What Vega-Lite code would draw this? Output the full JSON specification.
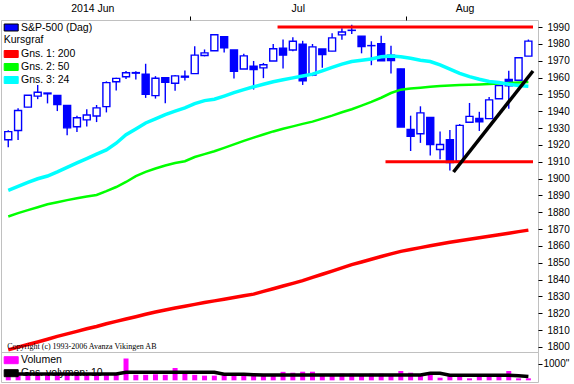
{
  "$schema": "https://vega.github.io/schema/vega-lite/v6.json",
  "background": "white",
  "padding": 0,
  "spacing": 0,
  "bounds": "flush",
  "config": {
    "font": "Liberation Sans",
    "view": {"stroke": "#c0c0c0", "strokeWidth": 1},
    "axis": {"domain": false, "grid": false, "labelFont": "Liberation Sans", "labelColor": "#000000", "tickColor": "#000000", "tickWidth": 1, "labelOverlap": false, "labelSeparation": 0, "labelBound": false},
    "legend": {
      "labelFont": "Liberation Sans", "labelFontSize": 10.5, "labelColor": "#000000",
      "titleFont": "Liberation Sans", "titleFontSize": 10.5, "titleFontWeight": "normal", "titleColor": "#000000",
      "symbolType": "M-1,-0.5H1V0.5H-1Z", "symbolSize": 196, "symbolStrokeColor": "#000000", "symbolStrokeWidth": 1,
      "padding": 0, "rowPadding": 0, "labelOffset": 2.3, "symbolOffset": 0, "titlePadding": 1.5, "offset": 0
    }
  },
  "resolve": {"scale": {"color": "independent", "x": "independent", "y": "independent"}, "legend": {"color": "independent"}},
  "datasets": {
    "ohlc": [
      {"i":0,"o":1923.06,"h":1928.63,"l":1918.6,"c":1927.88,"d":"up","r":1798.3,"g":1877.5,"cy":1893,"vol":330,"vma":380},
      {"i":1,"o":1928.52,"h":1941.74,"l":1922.93,"c":1940.46,"d":"up","r":1799.9,"g":1879.5,"cy":1895.3,"vol":330,"vma":380},
      {"i":2,"o":1942.41,"h":1949.44,"l":1942.41,"c":1949.44,"d":"up","r":1801.5,"g":1881.3,"cy":1897.7,"vol":361,"vma":380},
      {"i":3,"o":1948.97,"h":1955.55,"l":1947.16,"c":1951.27,"d":"up","r":1803,"g":1883,"cy":1899.9,"vol":361,"vma":380},
      {"i":4,"o":1950.34,"h":1950.86,"l":1944.64,"c":1950.79,"d":"up","r":1804.6,"g":1884.8,"cy":1901.5,"vol":330,"vma":380},
      {"i":5,"o":1949.37,"h":1949.37,"l":1940.08,"c":1943.89,"d":"down","r":1806.3,"g":1886,"cy":1904,"vol":330,"vma":380},
      {"i":6,"o":1943.35,"h":1943.35,"l":1925.78,"c":1930.11,"d":"down","r":1807.8,"g":1887.2,"cy":1906.7,"vol":361,"vma":380},
      {"i":7,"o":1930.8,"h":1937.3,"l":1927.69,"c":1936.16,"d":"up","r":1809.3,"g":1888.3,"cy":1909.3,"vol":361,"vma":380},
      {"i":8,"o":1934.84,"h":1941.15,"l":1930.91,"c":1937.78,"d":"up","r":1810.8,"g":1889.3,"cy":1911.9,"vol":330,"vma":380},
      {"i":9,"o":1937.15,"h":1943.69,"l":1933.55,"c":1941.99,"d":"up","r":1812.2,"g":1890.3,"cy":1914.5,"vol":330,"vma":380},
      {"i":10,"o":1942.73,"h":1957.74,"l":1939.29,"c":1956.98,"d":"up","r":1813.8,"g":1892.5,"cy":1917,"vol":361,"vma":380},
      {"i":11,"o":1957.5,"h":1959.87,"l":1952.26,"c":1959.48,"d":"up","r":1815.2,"g":1895,"cy":1921,"vol":361,"vma":380},
      {"i":12,"o":1960.45,"h":1963.91,"l":1959.17,"c":1962.87,"d":"up","r":1816.6,"g":1898,"cy":1926,"vol":1313,"vma":490},
      {"i":13,"o":1962.92,"h":1963.74,"l":1958.89,"c":1962.61,"d":"down","r":1818,"g":1901.5,"cy":1929.5,"vol":330,"vma":490},
      {"i":14,"o":1961.97,"h":1968.17,"l":1947.92,"c":1949.98,"d":"down","r":1819.4,"g":1904,"cy":1933,"vol":330,"vma":490},
      {"i":15,"o":1949.27,"h":1960.83,"l":1947.49,"c":1959.53,"d":"up","r":1820.8,"g":1906,"cy":1935.5,"vol":361,"vma":490},
      {"i":16,"o":1959.89,"h":1959.89,"l":1944.69,"c":1957.22,"d":"down","r":1822,"g":1907.8,"cy":1938,"vol":330,"vma":490},
      {"i":17,"o":1956.56,"h":1961.47,"l":1952.18,"c":1960.96,"d":"up","r":1823.1,"g":1909.2,"cy":1940,"vol":741,"vma":490},
      {"i":18,"o":1960.79,"h":1964.24,"l":1958.22,"c":1960.23,"d":"down","r":1824.2,"g":1910.3,"cy":1942,"vol":458,"vma":490},
      {"i":19,"o":1962.29,"h":1978.58,"l":1962.29,"c":1973.32,"d":"up","r":1825.3,"g":1912.8,"cy":1944.5,"vol":330,"vma":490},
      {"i":20,"o":1973.06,"h":1976.67,"l":1972.58,"c":1974.62,"d":"up","r":1826.4,"g":1914.5,"cy":1946.3,"vol":280,"vma":490},
      {"i":21,"o":1975.88,"h":1985.59,"l":1975.88,"c":1985.44,"d":"up","r":1827.4,"g":1916.2,"cy":1947.1,"vol":280,"vma":490},
      {"i":22,"o":1984.22,"h":1984.22,"l":1974.88,"c":1977.65,"d":"down","r":1828.4,"g":1918.2,"cy":1949,"vol":361,"vma":360},
      {"i":23,"o":1976.39,"h":1976.39,"l":1959.46,"c":1963.71,"d":"down","r":1829.4,"g":1920.3,"cy":1951,"vol":380,"vma":360},
      {"i":24,"o":1965.1,"h":1974.15,"l":1965.1,"c":1972.83,"d":"up","r":1830.4,"g":1922.4,"cy":1952.8,"vol":330,"vma":360},
      {"i":25,"o":1966.67,"h":1969.84,"l":1952.86,"c":1964.68,"d":"down","r":1831.4,"g":1924.3,"cy":1954.5,"vol":330,"vma":340},
      {"i":26,"o":1965.76,"h":1968.67,"l":1959.63,"c":1967.57,"d":"up","r":1833,"g":1926.2,"cy":1956,"vol":310,"vma":320},
      {"i":27,"o":1969.86,"h":1979.85,"l":1969.86,"c":1977.1,"d":"up","r":1834.6,"g":1928,"cy":1957.5,"vol":361,"vma":320},
      {"i":28,"o":1977.36,"h":1982.52,"l":1965.34,"c":1973.28,"d":"down","r":1836.2,"g":1929.6,"cy":1958.7,"vol":510,"vma":320},
      {"i":29,"o":1976.35,"h":1983.94,"l":1975.67,"c":1981.57,"d":"up","r":1837.8,"g":1931,"cy":1959.8,"vol":458,"vma":320},
      {"i":30,"o":1979.75,"h":1981.8,"l":1955.59,"c":1958.12,"d":"down","r":1839.4,"g":1932.5,"cy":1960.9,"vol":518,"vma":320},
      {"i":31,"o":1961.54,"h":1979.91,"l":1960.82,"c":1978.22,"d":"up","r":1841.3,"g":1933.8,"cy":1962,"vol":518,"vma":320},
      {"i":32,"o":1976.93,"h":1976.93,"l":1965.77,"c":1973.63,"d":"down","r":1843.2,"g":1935.6,"cy":1964,"vol":340,"vma":320},
      {"i":33,"o":1975.65,"h":1986.24,"l":1975.65,"c":1983.53,"d":"up","r":1845.1,"g":1937.4,"cy":1966,"vol":340,"vma":320},
      {"i":34,"o":1985.32,"h":1989.23,"l":1982.44,"c":1987.01,"d":"up","r":1847,"g":1939.4,"cy":1968,"vol":398,"vma":320},
      {"i":35,"o":1988.07,"h":1991.39,"l":1985.79,"c":1987.98,"d":"down","r":1848.9,"g":1941.2,"cy":1969.5,"vol":398,"vma":320},
      {"i":36,"o":1984.6,"h":1984.6,"l":1974.37,"c":1978.34,"d":"down","r":1850.5,"g":1943.3,"cy":1970.3,"vol":361,"vma":320},
      {"i":37,"o":1978.97,"h":1981.52,"l":1967.31,"c":1978.91,"d":"down","r":1852.1,"g":1945.5,"cy":1971,"vol":398,"vma":320},
      {"i":38,"o":1980.03,"h":1984.85,"l":1969.95,"c":1969.95,"d":"down","r":1853.7,"g":1948,"cy":1972.3,"vol":398,"vma":320},
      {"i":39,"o":1973.21,"h":1978.9,"l":1962.42,"c":1970.07,"d":"down","r":1855.3,"g":1950.8,"cy":1972.8,"vol":380,"vma":320},
      {"i":40,"o":1965.14,"h":1965.14,"l":1930.67,"c":1930.67,"d":"down","r":1856.8,"g":1952.8,"cy":1972.3,"vol":560,"vma":320},
      {"i":41,"o":1929.15,"h":1937.35,"l":1916.37,"c":1925.15,"d":"down","r":1857.9,"g":1953.5,"cy":1971.5,"vol":458,"vma":320},
      {"i":42,"o":1926.62,"h":1942.92,"l":1921.2,"c":1938.99,"d":"up","r":1859,"g":1954,"cy":1970.3,"vol":380,"vma":320},
      {"i":43,"o":1936.34,"h":1936.34,"l":1913.77,"c":1920.21,"d":"down","r":1860.1,"g":1954.5,"cy":1969.5,"vol":440,"vma":420},
      {"i":44,"o":1917.29,"h":1927.91,"l":1911.45,"c":1920.24,"d":"up","r":1861.2,"g":1954.9,"cy":1967.5,"vol":157,"vma":420},
      {"i":45,"o":1923.03,"h":1928.89,"l":1904.78,"c":1909.57,"d":"down","r":1862.2,"g":1955.2,"cy":1965,"vol":361,"vma":310},
      {"i":46,"o":1910.35,"h":1932.38,"l":1909.01,"c":1931.59,"d":"up","r":1863.1,"g":1955.5,"cy":1962.5,"vol":340,"vma":310},
      {"i":47,"o":1933.43,"h":1944.9,"l":1933.43,"c":1936.92,"d":"up","r":1864,"g":1955.7,"cy":1960.5,"vol":120,"vma":310},
      {"i":48,"o":1935.73,"h":1939.65,"l":1928.29,"c":1933.75,"d":"down","r":1864.9,"g":1955.9,"cy":1959,"vol":320,"vma":310},
      {"i":49,"o":1935.6,"h":1948.41,"l":1935.6,"c":1946.72,"d":"up","r":1865.8,"g":1956.1,"cy":1957.7,"vol":290,"vma":310},
      {"i":50,"o":1947.41,"h":1955.23,"l":1947.41,"c":1955.18,"d":"up","r":1866.7,"g":1956.4,"cy":1957,"vol":320,"vma":310},
      {"i":51,"o":1958.87,"h":1964.04,"l":1941.5,"c":1955.06,"d":"down","r":1867.6,"g":1956.7,"cy":1956,"vol":560,"vma":300},
      {"i":52,"o":1958.36,"h":1971.99,"l":1958.36,"c":1971.74,"d":"up","r":1868.5,"g":1957,"cy":1955.3,"vol":120,"vma":280},
      {"i":53,"o":1972.73,"h":1982.57,"l":1972.73,"c":1981.6,"d":"up","r":1869.4,"g":1957.4,"cy":1954.8,"vol":120,"vma":230}
    ],
    "levels": [
      {"x1": 27.44, "x2": 53.47, "v": 1990},
      {"x1": 38.44, "x2": 53.47, "v": 1910}
    ],
    "trend": [
      {"i": 45.37, "v": 1903.9},
      {"i": 53.47, "v": 1963.9}
    ]
  },
  "vconcat": [
    {
      "width": 537,
      "height": 332,
      "layer": [
        {
          "data": {"name": "ohlc"},
          "mark": {"type": "rule", "color": "#0000ff", "strokeWidth": 1.4, "clip": true},
          "encoding": {
            "x": {"field": "i", "type": "quantitative",
              "scale": {"domain": [-0.23, 53.47], "nice": false, "zero": false},
              "axis": {"orient": "top", "title": null, "values": [8.57, 18.5, 29.5, 40.5, 46.5], "tickCount": 20,
                "labelExpr": "datum.value == 8.57 ? '2014 Jun' : datum.value == 29.5 ? 'Jul' : datum.value == 46.5 ? 'Aug' : ''",
                "tickColor": {"condition": {"test": "datum.value == 18.5 || datum.value == 40.5", "value": "#000000"}, "value": "transparent"},
                "tickSize": 4, "labelPadding": 4.3, "labelBaseline": "alphabetic", "labelFontSize": 10.5,
                "labelFlush": false, "labelOverlap": false, "minExtent": 19, "maxExtent": 19}},
            "y": {"field": "l", "type": "quantitative",
              "scale": {"domain": [1797.03, 1994.16], "nice": false, "zero": false},
              "axis": {"orient": "right", "title": null, "values": [1800,1810,1820,1830,1840,1850,1860,1870,1880,1890,1900,1910,1920,1930,1940,1950,1960,1970,1980,1990],
                "tickCount": 40, "format": "d", "tickSize": 4, "labelPadding": 5, "labelFontSize": 10, "labelFlush": false, "labelOverlap": false, "labelSeparation": 0}},
            "y2": {"field": "h"}
          }
        },
        {
          "data": {"name": "ohlc"},
          "mark": {"type": "bar", "size": 7, "stroke": "#0000ff", "strokeWidth": 1.4, "clip": true},
          "encoding": {
            "x": {"field": "i", "type": "quantitative"},
            "y": {"field": "o", "type": "quantitative"},
            "y2": {"field": "c"},
            "fill": {"field": "d", "type": "nominal",
              "scale": {"domain": ["down", "up"], "range": ["#0000ff", "#ffffff"]},
              "legend": {"orient": "none", "legendX": 2.7, "legendY": 0, "title": null, "values": ["down"],
                "labelExpr": "'S&P-500 (Dag)'",
                "encode": {"symbols": {"update": {"fill": {"value": "#0000ff"}, "stroke": {"value": "#000000"}, "strokeWidth": {"value": 1}, "shape": {"value": "M-1,-0.5H1V0.5H-1Z"}, "size": {"value": 196}, "opacity": {"value": 1}}}}}}
          }
        },
        {
          "data": {"name": "ohlc"},
          "mark": {"type": "line", "strokeWidth": 3.5, "clip": true},
          "encoding": {
            "x": {"field": "i", "type": "quantitative"},
            "y": {"field": "r", "type": "quantitative"},
            "color": {"datum": "Gns. 1: 200",
              "scale": {"domain": ["Gns. 1: 200", "Gns. 2: 50", "Gns. 3: 24"], "range": ["#ff0000", "#00ff00", "#00ffff"]},
              "legend": {"orient": "none", "legendX": 2.7, "legendY": 14.5, "title": "Kursgraf", "titleAnchor": "start",
                "encode": {"symbols": {"update": {
                  "fill": {"signal": "datum.value == 'Gns. 1: 200' ? '#ff0000' : datum.value == 'Gns. 2: 50' ? '#00ff00' : '#00ffff'"},
                  "stroke": {"value": "#000000"}, "strokeWidth": {"value": 1}, "strokeDash": {"value": []},
                  "shape": {"value": "M-1,-0.5H1V0.5H-1Z"}, "size": {"value": 196}, "opacity": {"value": 1}}}}}}
          }
        },
        {
          "data": {"name": "ohlc"},
          "mark": {"type": "line", "strokeWidth": 2.5, "clip": true},
          "encoding": {
            "x": {"field": "i", "type": "quantitative"},
            "y": {"field": "g", "type": "quantitative"},
            "color": {"datum": "Gns. 2: 50"}
          }
        },
        {
          "data": {"name": "ohlc"},
          "mark": {"type": "line", "strokeWidth": 3.5, "clip": true},
          "encoding": {
            "x": {"field": "i", "type": "quantitative"},
            "y": {"field": "cy", "type": "quantitative"},
            "color": {"datum": "Gns. 3: 24"}
          }
        },
        {
          "data": {"name": "levels"},
          "mark": {"type": "rule", "color": "#ff0000", "strokeWidth": 3, "clip": true},
          "encoding": {
            "x": {"field": "x1", "type": "quantitative"},
            "x2": {"field": "x2"},
            "y": {"field": "v", "type": "quantitative"}
          }
        },
        {
          "data": {"name": "trend"},
          "mark": {"type": "line", "color": "#000000", "strokeWidth": 3.5, "clip": true},
          "encoding": {
            "x": {"field": "i", "type": "quantitative"},
            "y": {"field": "v", "type": "quantitative"}
          }
        },
        {
          "data": {"values": [{"t": "Copyright (c) 1993-2006 Avanza Vikingen AB"}]},
          "mark": {"type": "text", "font": "Liberation Serif", "fontSize": 8, "align": "left", "baseline": "alphabetic", "color": "#000000"},
          "encoding": {
            "x": {"datum": -0.1, "type": "quantitative"},
            "y": {"datum": 1798.6, "type": "quantitative"},
            "text": {"field": "t"}
          }
        }
      ]
    },
    {
      "width": 537,
      "height": 30,
      "layer": [
        {
          "data": {"name": "ohlc"},
          "mark": {"type": "bar", "size": 5, "clip": true},
          "encoding": {
            "x": {"field": "i", "type": "quantitative", "scale": {"domain": [-0.23, 53.47], "nice": false, "zero": false}, "axis": null},
            "y": {"field": "vol", "type": "quantitative", "scale": {"domain": [-102, 1705], "nice": false, "zero": false},
              "axis": {"orient": "right", "title": null, "values": [1000], "labelExpr": "'1000\"'", "tickSize": 4, "labelPadding": 1, "labelFontSize": 10, "labelFlush": false, "labelOverlap": false}},
            "y2": {"datum": 0},
            "color": {"datum": "Volumen",
              "scale": {"domain": ["Volumen", "Gns. volymen: 10"], "range": ["#ff00ff", "#000000"]},
              "legend": {"orient": "none", "legendX": 2.7, "legendY": 0.7, "title": null,
                "encode": {"symbols": {"update": {
                  "fill": {"signal": "datum.value == 'Volumen' ? '#ff00ff' : '#000000'"},
                  "stroke": {"value": "#000000"}, "strokeWidth": {"value": 1}, "strokeDash": {"value": []},
                  "shape": {"value": "M-1,-0.5H1V0.5H-1Z"}, "size": {"value": 196}, "opacity": {"value": 1}}}}}}
          }
        },
        {
          "data": {"name": "ohlc"},
          "mark": {"type": "line", "strokeWidth": 3.5, "clip": true},
          "encoding": {
            "x": {"field": "i", "type": "quantitative"},
            "y": {"field": "vma", "type": "quantitative"},
            "color": {"datum": "Gns. volymen: 10"}
          }
        }
      ]
    }
  ]
}
